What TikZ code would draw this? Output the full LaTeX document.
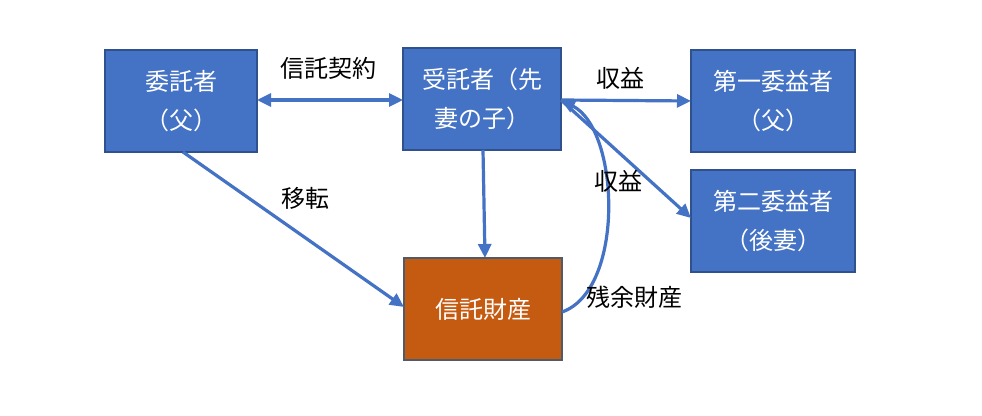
\documentclass[tikz,border=0pt]{standalone}
\usepackage{fontspec}
\setmainfont{Noto Sans CJK JP}
\usetikzlibrary{arrows.meta}
\definecolor{boxblue}{HTML}{4472C4}
\definecolor{boxedge}{HTML}{2F528F}
\definecolor{boxorange}{HTML}{C55A11}
\definecolor{edgeorange}{HTML}{4F5A6A}
\tikzset{
  bluebox/.style={draw=boxedge, line width=1.6pt, fill=boxblue, text=white,
    minimum width=156pt, minimum height=102pt, inner sep=0pt, align=center,
    font=\fontsize{24}{39}\selectfont},
  orangebox/.style={bluebox, fill=boxorange, draw=edgeorange},
  conn/.style={draw=boxblue, line width=3.2pt, -{Triangle[length=14pt,width=13pt]}},
  lbl/.style={font=\fontsize{24}{26}\selectfont, text=black, inner sep=0pt}
}
\begin{document}
\begin{tikzpicture}[x=1pt,y=-1pt]
\useasboundingbox (0,0) rectangle (982,415);
\fill[white] (0,0) rectangle (982,415);
\node[bluebox, minimum width=152pt] (settlor) at (181,101) {委託者\\（父）};
\node[bluebox, minimum width=158pt] (trustee) at (482,99) {受託者（先\\妻の子）};
\node[bluebox, minimum width=164pt] (ben1) at (773,101) {第一委益者\\（父）};
\node[bluebox, minimum width=164pt] (ben2) at (773,221) {第二委益者\\（後妻）};
\node[orangebox, minimum width=158pt] (prop) at (483,309) {信託財産};
\coordinate (sR) at (257,100);
\coordinate (tL) at (403,100);
\coordinate (sB) at (183,152);
\coordinate (pL) at (404,307);
\coordinate (tB) at (483,150);
\coordinate (pT) at (485,258);
\coordinate (tR) at (561,100);
\coordinate (b1L) at (691,101);
\coordinate (b2L) at (691,218);
\coordinate (pR) at (562,312);
\draw[conn, {Triangle[length=14pt,width=13pt]}-{Triangle[length=14pt,width=13pt]}] (sR) -- (tL);
\draw[conn] (sB) -- (pL);
\draw[conn] (tB) -- (pT);
\draw[conn] (tR) -- (b1L);
\draw[conn] (tR) -- (b2L);
\draw[conn] (pR) .. controls (625,290) and (620,130) .. (tR);
\node[lbl] (l1) at (328,68) {信託契約};
\node[lbl] (l2) at (305,198) {移転};
\node[lbl] (l3) at (620,78) {収益};
\node[lbl] (l4) at (618,181) {収益};
\node[lbl] (l5) at (634,297) {残余財産};
\end{tikzpicture}
\end{document}
